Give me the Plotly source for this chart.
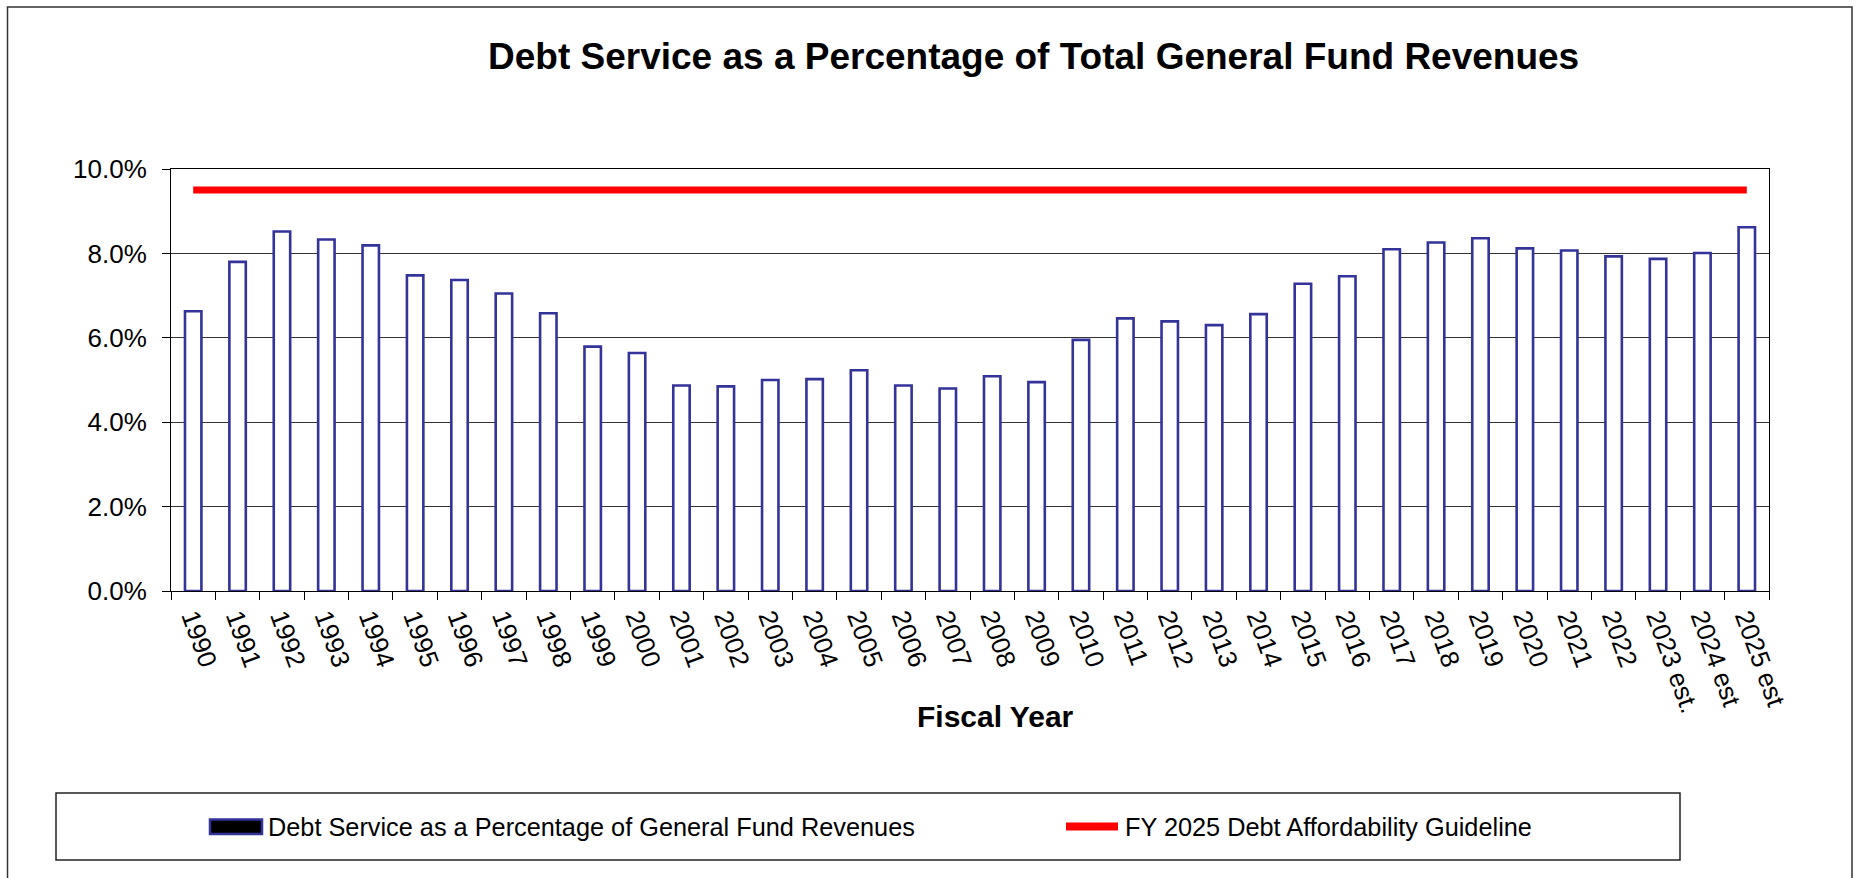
import plotly.graph_objects as go

# Fiscal years shown on the category axis
years = [
    "1990", "1991", "1992", "1993", "1994", "1995", "1996", "1997", "1998", "1999",
    "2000", "2001", "2002", "2003", "2004", "2005", "2006", "2007", "2008", "2009",
    "2010", "2011", "2012", "2013", "2014", "2015", "2016", "2017", "2018", "2019",
    "2020", "2021", "2022", "2023 est.", "2024 est", "2025 est",
]

# Debt service as a share of general fund revenues
debt_share = [
    0.0663, 0.0780, 0.0852, 0.0833, 0.0819, 0.0748, 0.0737, 0.0705, 0.0658, 0.0579,
    0.0564, 0.0487, 0.0485, 0.0500, 0.0502, 0.0523, 0.0487, 0.0480, 0.0509, 0.0495,
    0.0595, 0.0646, 0.0639, 0.0630, 0.0656, 0.0728, 0.0746, 0.0810, 0.0826, 0.0836,
    0.0812, 0.0807, 0.0793, 0.0787, 0.0801, 0.0862,
]

# FY 2025 affordability guideline (flat across all years)
guideline = 0.095

y_ticks = [0.0, 0.02, 0.04, 0.06, 0.08, 0.10]

FONT = "Liberation Sans, Arial, sans-serif"
NAVY = "#333399"

# Page geometry in pixels
FIG_W, FIG_H = 1857, 878
PLOT_L, PLOT_R, PLOT_T, PLOT_B = 171, 1769, 169, 591
PW, PH = PLOT_R - PLOT_L, PLOT_B - PLOT_T


def px_x(px):
    return (px - PLOT_L) / PW


def px_y(py):
    return (PLOT_B - py) / PH


fig = go.Figure()

fig.add_trace(go.Bar(
    x=years,
    y=debt_share,
    name="Debt Service as a Percentage of General Fund Revenues",
    marker=dict(color="white", line=dict(color=NAVY, width=2.6)),
    showlegend=False,
))

fig.add_trace(go.Scatter(
    x=years,
    y=[guideline] * len(years),
    name="FY 2025 Debt Affordability Guideline",
    mode="lines",
    line=dict(color="#ff0000", width=7),
    showlegend=False,
))

shapes = [
    # outer chart frame
    dict(type="rect", xref="paper", yref="paper",
         x0=px_x(7.5), x1=px_x(1852), y0=px_y(7), y1=px_y(920),
         line=dict(color="#333333", width=1.5), fillcolor="rgba(0,0,0,0)", layer="below"),
    # legend box
    dict(type="rect", xref="paper", yref="paper",
         x0=px_x(56), x1=px_x(1680), y0=px_y(793), y1=px_y(860),
         line=dict(color="#222222", width=1.5), fillcolor="white", layer="below"),
    # legend key: bars
    dict(type="rect", xref="paper", yref="paper",
         x0=px_x(210), x1=px_x(262), y0=px_y(819.5), y1=px_y(834),
         line=dict(color=NAVY, width=2.5), fillcolor="black"),
    # legend key: guideline
    dict(type="line", xref="paper", yref="paper",
         x0=px_x(1066), x1=px_x(1118), y0=px_y(826.5), y1=px_y(826.5),
         line=dict(color="#ff0000", width=8)),
]

annotations = [
    dict(text="<b>Debt Service as a Percentage of Total General Fund Revenues</b>",
         xref="paper", yref="paper", x=px_x(1033), y=px_y(57),
         xanchor="center", yanchor="middle", showarrow=False,
         font=dict(family=FONT, size=37, color="black")),
    dict(text="<b>Fiscal Year</b>",
         xref="paper", yref="paper", x=px_x(995), y=px_y(716),
         xanchor="center", yanchor="middle", showarrow=False,
         font=dict(family=FONT, size=30, color="black")),
    dict(text="Debt Service as a Percentage of General Fund Revenues",
         xref="paper", yref="paper", x=px_x(266), y=px_y(827),
         xanchor="left", yanchor="middle", showarrow=False,
         font=dict(family=FONT, size=25.3, color="black")),
    dict(text="FY 2025 Debt Affordability Guideline",
         xref="paper", yref="paper", x=px_x(1123), y=px_y(827),
         xanchor="left", yanchor="middle", showarrow=False,
         font=dict(family=FONT, size=25.3, color="black")),
]

fig.update_layout(
    width=FIG_W,
    height=FIG_H,
    margin=dict(l=PLOT_L, r=FIG_W - PLOT_R, t=PLOT_T, b=FIG_H - PLOT_B, autoexpand=False),
    paper_bgcolor="white",
    plot_bgcolor="white",
    bargap=0.63,
    showlegend=False,
    shapes=shapes,
    annotations=annotations,
    font=dict(family=FONT, size=26, color="black"),
)

fig.update_xaxes(
    type="category",
    tickangle=70,
    tickson="boundaries",
    ticks="outside",
    ticklen=8,
    tickcolor="black",
    showline=True,
    linecolor="black",
    linewidth=1,
    mirror=True,
    showgrid=False,
    tickfont=dict(family=FONT, size=26, color="black"),
)

fig.update_yaxes(
    range=[0, 0.10],
    tickvals=y_ticks,
    tickformat=".1%",
    ticks="outside",
    ticklen=8,
    tickcolor="black",
    ticklabelstandoff=10,
    showline=True,
    linecolor="black",
    linewidth=1,
    mirror=True,
    showgrid=True,
    gridcolor="#333333",
    gridwidth=1,
    zeroline=False,
    tickfont=dict(family=FONT, size=26, color="black"),
)

fig.write_html("out.html")
